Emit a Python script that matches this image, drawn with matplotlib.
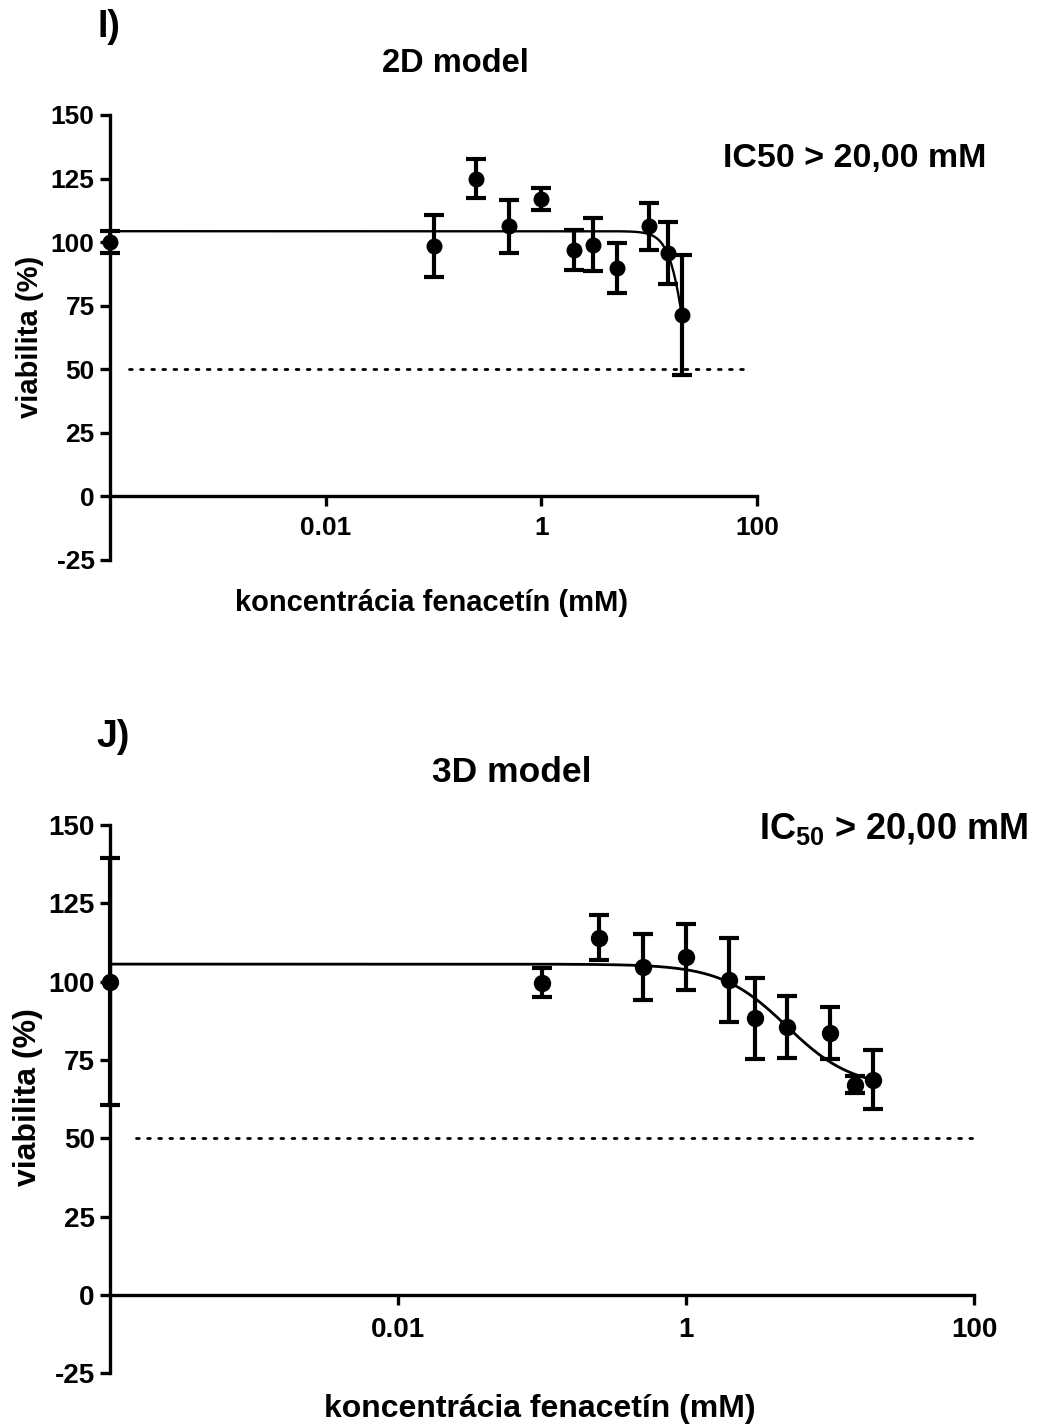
import numpy as np
import matplotlib
matplotlib.use("Agg")
import matplotlib.pyplot as plt
from matplotlib.ticker import NullLocator, FixedLocator

plt.rcParams['font.family'] = ['Liberation Sans', 'DejaVu Sans']
plt.rcParams['font.weight'] = 'bold'
plt.rcParams['axes.unicode_minus'] = False
plt.rcParams['mathtext.fontset'] = 'custom'
plt.rcParams['mathtext.rm'] = 'Liberation Sans:bold'
plt.rcParams['mathtext.it'] = 'Liberation Sans:bold'
plt.rcParams['mathtext.bf'] = 'Liberation Sans:bold'

# ---- data: phenacetin concentration (mM) vs. viability (%) ----
conc_2d = [1e-4, 0.1, 0.25, 0.5, 1, 2, 3, 5, 10, 15, 20]
viab_2d = [100.0, 98.4, 125.0, 106.3, 116.8, 96.9, 99.0, 89.9, 106.2, 95.7, 71.4]
err_2d = [4.4, 12.2, 7.7, 10.4, 4.3, 7.7, 10.5, 9.9, 9.1, 12.2, 23.6]

conc_3d = [1e-4, 0.1, 0.25, 0.5, 1, 2, 3, 5, 10, 15, 20]
viab_3d = [100.0, 99.6, 114.0, 104.6, 107.8, 100.5, 88.3, 85.4, 83.5, 67.1, 68.7]
err_3d = [39.5, 4.6, 7.2, 10.5, 10.5, 13.3, 13.0, 9.9, 8.3, 2.7, 9.5]

# four-parameter logistic fits (top, bottom, IC50, Hill slope)
fit_2d = dict(top=104.3, bottom=0.0, ic50=23.2, hill=5.3)
fit_3d = dict(top=105.6, bottom=66.0, ic50=5.0, hill=1.9)

x_ticks = [0.01, 1, 100]
x_ticklabels = ['0.01', '1', '100']
y_ticks = [-25, 0, 25, 50, 75, 100, 125, 150]


def logistic(x, top, bottom, ic50, hill):
    return bottom + (top - bottom) / (1.0 + (x / ic50) ** hill)


W, H = 1042, 1428
fig = plt.figure(figsize=(W / 100, H / 100), dpi=100)


def fx(px):
    return px / W


def fy(py):
    return 1 - py / H


def panel(rect, conc, viab, err, fit, tick_fs, ms, cap, curve_lw, dot_end,
          xpad):
    ax = fig.add_axes(rect)
    ax.set_xscale('log')
    ax.set_xlim(1e-4, 100)
    ax.set_ylim(-25, 150)
    for s in ('top', 'right'):
        ax.spines[s].set_visible(False)
    ax.spines['bottom'].set_position(('data', 0))
    for s in ('left', 'bottom'):
        ax.spines[s].set_linewidth(2.4)
        ax.spines[s].set_capstyle('projecting')
    ax.xaxis.set_major_locator(FixedLocator(x_ticks))
    ax.set_xticklabels(x_ticklabels)
    ax.xaxis.set_minor_locator(NullLocator())
    ax.set_yticks(y_ticks)
    ax.tick_params(axis='both', which='major', direction='out', length=7,
                   width=2.4, labelsize=tick_fs, pad=4)
    ax.tick_params(axis='x', pad=xpad)
    for lbl in ax.get_xticklabels() + ax.get_yticklabels():
        lbl.set_fontweight('bold')

    # 50 % reference line
    ax.axhline(50, xmin=0.03, xmax=dot_end, color='black', lw=2.0,
               linestyle=(0, (1, 3.0)), dash_capstyle='round', zorder=1)

    # fitted dose-response curve
    xs = np.logspace(-4, np.log10(conc[-1]), 500)
    ax.plot(xs, logistic(xs, **fit), color='black', lw=curve_lw, zorder=2,
            clip_on=False)

    cont = ax.errorbar(conc, viab, yerr=err, fmt='o', color='black', ms=ms,
                       elinewidth=3.0, capsize=cap, capthick=3.0, zorder=3)
    cont.lines[0].set_clip_on(False)
    for art in cont.lines[1]:
        art.set_clip_on(False)
    for art in cont.lines[2]:
        art.set_clip_on(False)
    return ax


ax1 = panel([fx(110), fy(560), (757 - 110) / W, (560 - 115) / H],
            conc_2d, viab_2d, err_2d, fit_2d, 19, 10.5, 7, 1.7, 0.99, 7)
ax2 = panel([fx(110), fy(1373.3), (974 - 110) / W, (1373.3 - 825) / H],
            conc_3d, viab_3d, err_3d, fit_3d, 20, 11.5, 7.5, 2.0, 1.0, 9)

# ---- labels ----
fig.text(fx(109), fy(27), 'I)', fontsize=27, fontweight='bold',
         ha='center', va='center')
fig.text(fx(455), fy(63), '2D model', fontsize=23.5, fontweight='bold',
         ha='center', va='center')
fig.text(fx(855), fy(158), 'IC50 > 20,00 mM', fontsize=24.5,
         fontweight='bold', ha='center', va='center')
fig.text(fx(30), fy(337), 'viabilita (%)', fontsize=21, fontweight='bold',
         ha='center', va='center', rotation=90)
fig.text(fx(432), fy(603), 'koncentrácia fenacetín (mM)', fontsize=21,
         fontweight='bold', ha='center', va='center')

fig.text(fx(113), fy(737), 'J)', fontsize=27, fontweight='bold',
         ha='center', va='center')
fig.text(fx(512), fy(773), '3D model', fontsize=25.5, fontweight='bold',
         ha='center', va='center')
fig.text(fx(893), fy(829), r'IC$_{50}$ > 20,00 mM', fontsize=26,
         fontweight='bold', ha='center', va='center')
fig.text(fx(28), fy(1097), 'viabilita (%)', fontsize=23, fontweight='bold',
         ha='center', va='center', rotation=90)
fig.text(fx(540), fy(1409), 'koncentrácia fenacetín (mM)', fontsize=23,
         fontweight='bold', ha='center', va='center')

fig.savefig('out.png', dpi=100)
